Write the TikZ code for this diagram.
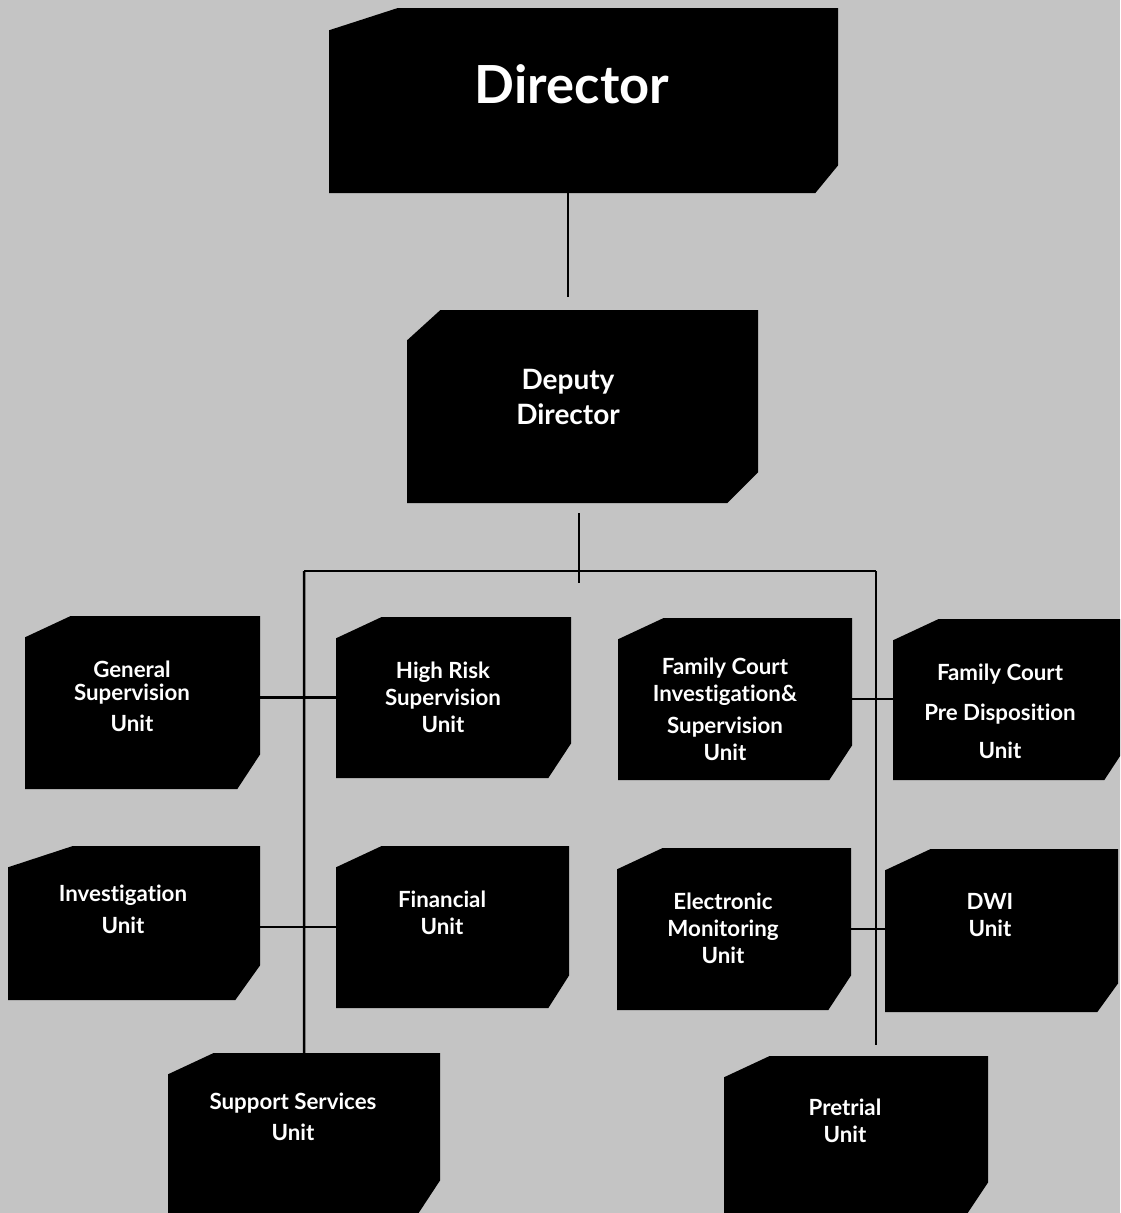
\documentclass[tikz,border=0pt]{standalone}
\usepackage{fontspec}
\setmainfont{Lato}[Ligatures=NoCommon]
\usepackage{tikz}
\usetikzlibrary{positioning}

\definecolor{paper}{RGB}{196,196,196}

\tikzset{
  cuttl/.code args={#1/#2}{\def\tlx{#1pt}\def\tly{#2pt}},
  cutbr/.code args={#1/#2}{\def\brx{#1pt}\def\bry{#2pt}},
  unit/.style={rectangle, inner sep=0pt, anchor=north west, fill=paper,
    cuttl=45/21, cutbr=23/35,
    path picture={\fill[black]
      ([yshift=-\tly]path picture bounding box.north west) --
      ([xshift=\tlx]path picture bounding box.north west) --
      (path picture bounding box.north east) --
      ([yshift=\bry]path picture bounding box.south east) --
      ([xshift=-\brx]path picture bounding box.south east) --
      (path picture bounding box.south west) -- cycle;}},
  lbl/.style={text=white, align=center, inner sep=0pt,
    font=\bfseries\fontsize{22.3}{27}\selectfont},
  link/.style={line width=2.5pt, black}
}

\begin{document}
\begin{tikzpicture}[x=1pt, y=-1pt]
  \fill[paper] (0,0) rectangle (1120,1213);
  \useasboundingbox (0,0) rectangle (1120,1213);
  \clip (0,0) rectangle (1120,1213);

  % boxes
  \node[unit, cuttl=68/22, cutbr=23/28, minimum width=509pt, minimum height=185pt] (dir) at (329,8) {};
  \node[unit, cuttl=33/30, cutbr=31/31, minimum width=351pt, minimum height=193pt] (dep) at (407,310) {};
  \node[unit, minimum width=235pt, minimum height=173pt] (gen) at (25,616) {};
  \node[unit, minimum width=235pt, minimum height=161pt] (hir) at (336,617) {};
  \node[unit, minimum width=234pt, minimum height=162pt] (fam) at (618,618) {};
  \node[unit, minimum width=234pt, minimum height=161pt] (pre) at (893,619) {};
  \node[unit, cuttl=64/21, cutbr=25/35, minimum width=252pt, minimum height=154pt] (inv) at (8,846) {};
  \node[unit, cutbr=21/33, minimum width=233pt, minimum height=162pt] (fin) at (336,846) {};
  \node[unit, minimum width=234pt, minimum height=162pt] (ele) at (617,848) {};
  \node[unit, cutbr=21/29, minimum width=233pt, minimum height=163pt] (dwi) at (885,849) {};
  \node[unit, minimum width=272pt, minimum height=162pt] (sup) at (168,1053) {};
  \node[unit, cutbr=22/33, minimum width=264pt, minimum height=159pt] (ptr) at (724,1056) {};

  % labels
  \node[lbl, font=\bfseries\fontsize{52.5}{60}\selectfont] (dir-t) at (572,84) {Director};
  \node[lbl, font=\bfseries\fontsize{28}{35}\selectfont] (dep-t) at (568,397) {Deputy\\Director};
  \node[lbl] (gen-t) at (132,696) {General\\[-4pt]Supervision\\[4pt]Unit};
  \node[lbl] (hir-t) at (443,697) {High Risk\\Supervision\\Unit};
  \node[lbl] (fam-t) at (725,709) {Family Court\\Investigation\&\\[5pt]Supervision\\Unit};
  \node[lbl] (pre-t) at (1000,711) {Family Court\\[13pt]Pre Disposition\\[11pt]Unit};
  \node[lbl] (inv-t) at (123,909) {Investigation\\[5pt]Unit};
  \node[lbl] (fin-t) at (442,913) {Financial\\Unit};
  \node[lbl] (ele-t) at (723,928) {Electronic\\Monitoring\\Unit};
  \node[lbl] (dwi-t) at (990,915) {DWI\\Unit};
  \node[lbl] (sup-t) at (293,1117) {Support Services\\[4pt]Unit};
  \node[lbl] (ptr-t) at (845,1121) {Pretrial\\Unit};

  % bus and free ends
  \coordinate (dd) at (568,297);
  \coordinate (bt) at (579,513);
  \coordinate (bb) at (579,583);
  \coordinate (bl) at (304,571);
  \coordinate (br) at (876,571);
  \coordinate (rb) at (876,1045);

  \draw[link] (dir.south -| dd) -- (dd);
  \draw[link] (bt) -- (bb);
  \draw[link] (bl) -- (br);
  \draw[link] (bl) -- (sup.north);
  \draw[link] (br) -- (rb);
  \draw[link] (gen.east |- hir.west) -- (hir.west);
  \draw[link] (fam.east) -- (fam.east -| pre.west);
  \draw[link] (inv.east |- fin.west) -- (fin.west);
  \draw[link] (ele.east) -- (ele.east -| dwi.west);
\end{tikzpicture}
\end{document}
